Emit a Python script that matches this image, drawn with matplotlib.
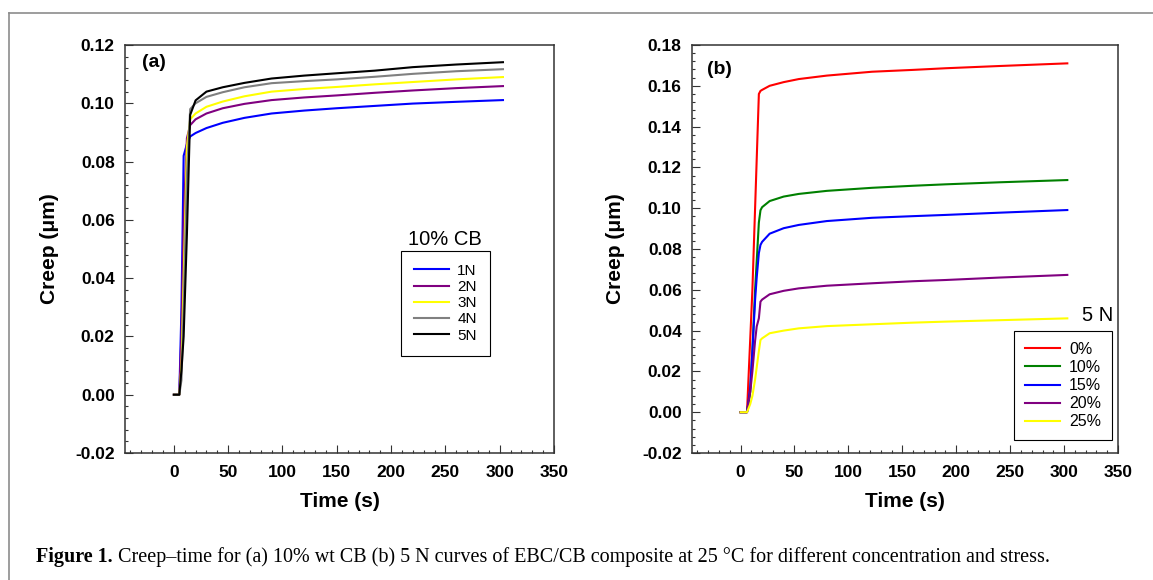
import matplotlib
matplotlib.use("Agg")
import matplotlib.pyplot as plt
from matplotlib.ticker import MultipleLocator, FormatStrFormatter
from matplotlib.lines import Line2D

plt.rcParams['font.family'] = ['Liberation Sans', 'DejaVu Sans']

# (a) 10% CB at different loads
t_a = [0, 5, 7, 9, 12, 15, 20, 30, 45, 65, 90, 120, 150, 185, 220, 260, 303]
a_1N = [0, 0, 0.030, 0.082, 0.0860, 0.0886, 0.0898, 0.0915, 0.0933, 0.0950, 0.0965, 0.0975, 0.0983, 0.0991, 0.0999, 0.1005, 0.1011]
a_2N = [0, 0, 0.021, 0.060, 0.0880, 0.0925, 0.0945, 0.0965, 0.0983, 0.0998, 0.1011, 0.1020, 0.1027, 0.1036, 0.1044, 0.1052, 0.1059]
a_3N = [0, 0, 0.010, 0.040, 0.0850, 0.0945, 0.0965, 0.0988, 0.1006, 0.1024, 0.1040, 0.1049, 0.1056, 0.1065, 0.1073, 0.1082, 0.1090]
a_4N = [0, 0, 0.005, 0.030, 0.0750, 0.0980, 0.1000, 0.1022, 0.1038, 0.1055, 0.1069, 0.1076, 0.1082, 0.1091, 0.1101, 0.1110, 0.1117]
a_5N = [0, 0, 0.0085, 0.020, 0.0550, 0.0960, 0.1010, 0.1040, 0.1055, 0.1070, 0.1085, 0.1095, 0.1103, 0.1112, 0.1124, 0.1133, 0.1141]
labels_a = ["1N", "2N", "3N", "4N", "5N"]
colors_a = ["#0000ff", "#800080", "#ffff00", "#808080", "#000000"]

# (b) 5 N at different CB contents
t_b = [0, 6, 9, 11, 13.5, 15, 17, 18.5, 20, 27, 40, 54, 80, 122, 160, 190, 240, 303]
b_0 = [0, 0, 0.036, 0.060, 0.100, 0.124, 0.156, 0.1575, 0.1580, 0.1600, 0.1618, 0.1633, 0.1650, 0.1669, 0.1678, 0.1686, 0.1697, 0.1710]
b_10 = [0, 0, 0.010, 0.030, 0.060, 0.074, 0.093, 0.0990, 0.1005, 0.1035, 0.1057, 0.1070, 0.1085, 0.1100, 0.1110, 0.1117, 0.1127, 0.1138]
b_15 = [0, 0, 0.012, 0.030, 0.055, 0.066, 0.078, 0.0820, 0.0835, 0.0875, 0.0902, 0.0918, 0.0937, 0.0953, 0.0961, 0.0967, 0.0978, 0.0991]
b_20 = [0, 0, 0.010, 0.020, 0.035, 0.042, 0.046, 0.0542, 0.0552, 0.0578, 0.0595, 0.0607, 0.0620, 0.0632, 0.0642, 0.0648, 0.0660, 0.0673]
b_25 = [0, 0, 0.004, 0.008, 0.016, 0.022, 0.030, 0.0354, 0.0362, 0.0387, 0.0400, 0.0411, 0.0422, 0.0431, 0.0439, 0.0444, 0.0451, 0.0460]
labels_b = ["0%", "10%", "15%", "20%", "25%"]
colors_b = ["#ff0000", "#008000", "#0000ff", "#800080", "#ffff00"]

fig = plt.figure(figsize=(11.53, 5.8), dpi=100)
ax1 = fig.add_axes([125 / 1153, 1 - 453 / 580, 429 / 1153, 408 / 580])
ax2 = fig.add_axes([692 / 1153, 1 - 453 / 580, 426 / 1153, 408 / 580])


def style_axes(ax, ymax):
    ax.set_xlim(-45, 350)
    ax.set_ylim(-0.02, ymax)
    ax.set_xticks(range(0, 351, 50))
    ax.xaxis.set_minor_locator(MultipleLocator(10))
    ax.yaxis.set_major_locator(MultipleLocator(0.02))
    ax.yaxis.set_minor_locator(MultipleLocator(0.004))
    ax.yaxis.set_major_formatter(FormatStrFormatter('%.2f'))
    ax.tick_params(which='both', direction='in', top=False, right=False, width=0.8, color='#333333')
    ax.tick_params(which='major', length=5.5)
    ax.tick_params(which='minor', length=2.5)
    ax.tick_params(axis='x', pad=8.3)
    ax.tick_params(axis='y', pad=7.4)
    for lab in ax.get_xticklabels() + ax.get_yticklabels():
        lab.set_fontweight('bold')
        lab.set_fontsize(12.5)
    for sp in ax.spines.values():
        sp.set_linewidth(1.1)
        sp.set_color('#333333')
    ax.set_xlabel("Time (s)", fontsize=15, fontweight='bold', va='top')
    ax.set_ylabel("Creep (μm)", fontsize=15, fontweight='bold')
    ax.xaxis.set_label_coords(0.5, -0.095)


# panel (a)
for y, lab, c in zip([a_1N, a_2N, a_3N, a_4N, a_5N], labels_a, colors_a):
    ax1.plot(t_a, y, color=c, lw=1.5, label=lab)
style_axes(ax1, 0.12)
ax1.yaxis.set_label_coords(-0.155, 0.5)
ax1.text(0.04, 0.956, "(a)", transform=ax1.transAxes, fontsize=14, fontweight='bold', va='center', ha='left')
leg1 = ax1.legend(loc='upper left', bbox_to_anchor=(0.643, 0.496), borderaxespad=0,
                  fontsize=11, handlelength=2.3, handletextpad=0.55, borderpad=0.85,
                  labelspacing=0.15, fancybox=False, framealpha=1, edgecolor='black')
leg1.get_frame().set_linewidth(0.8)
ax1.text(0.745, 0.5245, "10% CB", transform=ax1.transAxes, fontsize=14.5, ha='center', va='center')

# panel (b)
for y, lab, c in zip([b_0, b_10, b_15, b_20, b_25], labels_b, colors_b):
    ax2.plot(t_b, y, color=c, lw=1.5, label=lab)
style_axes(ax2, 0.18)
ax2.yaxis.set_label_coords(-0.157, 0.5)
ax2.text(0.035, 0.941, "(b)", transform=ax2.transAxes, fontsize=14, fontweight='bold', va='center', ha='left')
leg2 = ax2.legend(loc='upper left', bbox_to_anchor=(0.756, 0.299), borderaxespad=0,
                  fontsize=11.5, handlelength=2.2, handletextpad=0.55, borderpad=0.69,
                  labelspacing=0.19, fancybox=False, framealpha=1, edgecolor='black')
leg2.get_frame().set_linewidth(0.8)
ax2.text(0.99, 0.338, "5 N", transform=ax2.transAxes, fontsize=14.5, ha='right', va='center')

# page frame lines (top and left)
fig.add_artist(Line2D([9 / 1153, 1], [1 - 13 / 580, 1 - 13 / 580], transform=fig.transFigure, color='#8c8c8c', lw=1.2))
fig.add_artist(Line2D([9 / 1153, 9 / 1153], [0, 1 - 13 / 580], transform=fig.transFigure, color='#8c8c8c', lw=1.2))

# caption
cap_y = 1 - 557 / 580
t1 = fig.text(36 / 1153, cap_y, "Figure 1.", fontsize=14.5, fontweight='bold',
              family='Liberation Serif', va='center', ha='left')
renderer = fig.canvas.get_renderer()
bb = t1.get_window_extent(renderer=renderer)
fig.text((bb.x1 + 5) / 1153, cap_y,
         "Creep\u2013time for (a) 10% wt CB (b) 5 N curves of EBC/CB composite at 25 \u00b0C for different concentration and stress.",
         fontsize=14.5, family='Liberation Serif', va='center', ha='left')

fig.savefig("out.png", dpi=100)
